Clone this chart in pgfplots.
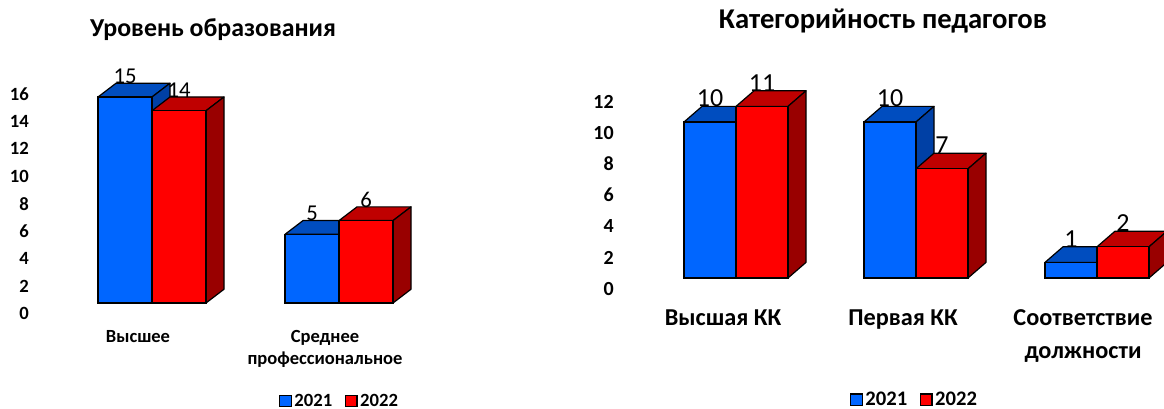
\documentclass[border=0pt]{standalone}
\usepackage{fontspec}
\setmainfont{Carlito}
\usepackage{pgfplots}
\pgfplotsset{compat=1.18}
\definecolor{bf}{RGB}{0,102,255}
\definecolor{bt}{RGB}{0,77,191}
\definecolor{bs}{RGB}{0,64,165}
\definecolor{rf}{RGB}{255,0,0}
\definecolor{rt}{RGB}{191,0,0}
\definecolor{rs}{RGB}{153,0,0}
\pgfplotsset{
  face/.style={draw=black, line width=0.9pt, line join=round, forget plot},
  front/.style={ybar, draw=black, line width=0.9pt, bar width=#1,
    legend image code/.code={\draw[##1, line width=0.9pt] (0pt,-4.2pt) rectangle (8.5pt,4.2pt);},
    nodes near coords,
    every node near coord/.append style={anchor=south, inner sep=0pt, draw=none, fill=none, text=black, line width=0pt}},
  lab/.style={every node near coord/.append style={xshift=#1}},
  common/.style={
    x=0.75pt, clip=false,
    axis line style={draw=none}, major tick length=0pt,
    ymin=0, axis y line*=left, axis x line*=bottom,
    yticklabel style={anchor=east, inner sep=0pt},
    /pgf/number format/assume math mode=true,
    legend columns=2,
    legend style={draw=none, fill=none, inner sep=0pt, /tikz/every even column/.append style={column sep=7.5pt}},
  },
}
\begin{document}
\begin{tikzpicture}
\useasboundingbox (0,0) rectangle (873pt,306.75pt);
% ---------- left ----------
\begin{axis}[common, at={(21.75pt,79.5pt)}, anchor=south west,
  y=10.3pt, xmin=29, xmax=430, ymax=17,
  ytick={0,2,...,16},
  xtick={138,325},
  xticklabels={Высшее,{Среднее\\профессиональное}},
  xticklabel style={align=center, anchor=north, inner sep=0pt, yshift=-20.5pt, font=\bfseries\fontsize{13.9}{16.5}\selectfont},
  yticklabel style={font=\bfseries\fontsize{14}{16}\selectfont, yshift=-8pt},
  title={\bfseries Уровень образования},
  title style={at={(0.459,1.137)}, anchor=center, font=\fontsize{19.4}{22}\selectfont},
  legend style={at={(axis cs:340,-7.13)}, anchor=center, font=\bfseries\fontsize{14}{15}\selectfont},
  every node near coord/.append style={font=\fontsize{17}{19}\selectfont, yshift=10pt},
]
\addplot[face, fill=bt] coordinates {(98,15)(116,16)(170,16)(152,15)} -- cycle;
\addplot[face, fill=bs] coordinates {(152,0)(170,1)(170,16)(152,15)} -- cycle;
\addplot[face, fill=bt] coordinates {(285,5)(303,6)(357,6)(339,5)} -- cycle;
\addplot[face, fill=bs] coordinates {(339,0)(357,1)(357,6)(339,5)} -- cycle;
\addplot[front=40.5pt, bar shift=-20.25pt, fill=bf, lab=-20.25pt] coordinates {(152,15)(339,5)};
\addplot[face, fill=rt] coordinates {(152,14)(170,15)(224,15)(206,14)} -- cycle;
\addplot[face, fill=rs] coordinates {(206,0)(224,1)(224,15)(206,14)} -- cycle;
\addplot[face, fill=rt] coordinates {(339,6)(357,7)(411,7)(393,6)} -- cycle;
\addplot[face, fill=rs] coordinates {(393,0)(411,1)(411,7)(393,6)} -- cycle;
\addplot[front=40.5pt, bar shift=20.25pt, fill=rf, lab=20.25pt] coordinates {(152,14)(339,6)};
\legend{2021,2022}
\end{axis}
% ---------- right ----------
\begin{axis}[common, at={(460.5pt,98.25pt)}, anchor=south west,
  y=11.7pt, xmin=614, xmax=1164, ymax=13,
  ytick={0,2,...,12},
  xtick={723,903,1083},
  xticklabels={Высшая КК,Первая КК,{Соответствие\\должности}},
  xticklabel style={align=center, anchor=north, inner sep=0pt, yshift=-23.5pt, font=\bfseries\fontsize{18.2}{24.5}\selectfont},
  yticklabel style={font=\bfseries\fontsize{15}{17}\selectfont, yshift=-8pt},
  title={\bfseries Категорийность педагогов},
  title style={at={(0.489,1.226)}, anchor=center, font=\fontsize{21.5}{25}\selectfont},
  legend style={at={(axis cs:915,-7.8)}, anchor=center, font=\bfseries\fontsize{15.5}{17}\selectfont},
  every node near coord/.append style={font=\fontsize{19.5}{21}\selectfont, yshift=11.5pt},
]
\addplot[face, fill=bt] coordinates {(684,10)(702,11)(754,11)(736,10)} -- cycle;
\addplot[face, fill=bs] coordinates {(736,0)(754,1)(754,11)(736,10)} -- cycle;
\addplot[face, fill=bt] coordinates {(864,10)(882,11)(934,11)(916,10)} -- cycle;
\addplot[face, fill=bs] coordinates {(916,0)(934,1)(934,11)(916,10)} -- cycle;
\addplot[face, fill=bt] coordinates {(1045,1)(1063,2)(1115,2)(1097,1)} -- cycle;
\addplot[face, fill=bs] coordinates {(1097,0)(1115,1)(1115,2)(1097,1)} -- cycle;
\addplot[front=39pt, bar shift=-19.5pt, fill=bf, lab=-19.5pt] coordinates {(736,10)(916,10)(1097,1)};
\addplot[face, fill=rt] coordinates {(736,11)(754,12)(806,12)(788,11)} -- cycle;
\addplot[face, fill=rs] coordinates {(788,0)(806,1)(806,12)(788,11)} -- cycle;
\addplot[face, fill=rt] coordinates {(916,7)(934,8)(986,8)(968,7)} -- cycle;
\addplot[face, fill=rs] coordinates {(968,0)(986,1)(986,8)(968,7)} -- cycle;
\addplot[face, fill=rt] coordinates {(1097,2)(1115,3)(1167,3)(1149,2)} -- cycle;
\addplot[face, fill=rs] coordinates {(1149,0)(1167,1)(1167,3)(1149,2)} -- cycle;
\addplot[front=39pt, bar shift=19.5pt, fill=rf, lab=19.5pt] coordinates {(736,11)(916,7)(1097,2)};
\legend{2021,2022}
\end{axis}
\end{tikzpicture}
\end{document}
